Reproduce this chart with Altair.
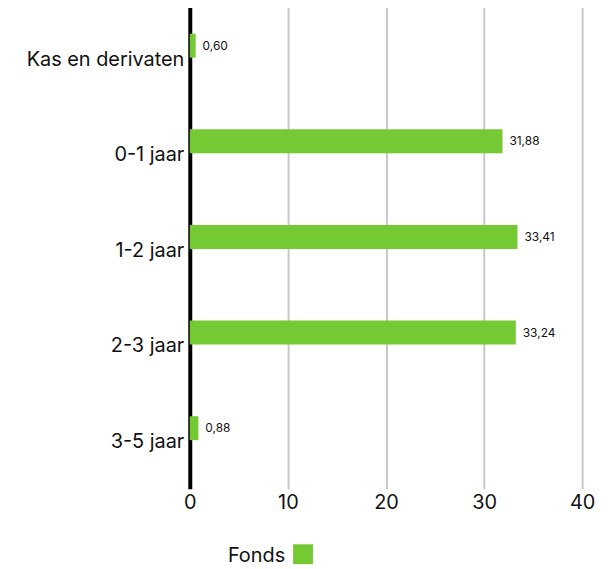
import altair as alt
import pandas as pd

categories = ["Kas en derivaten", "0-1 jaar", "1-2 jaar", "2-3 jaar", "3-5 jaar"]
values = [0.60, 31.88, 33.41, 33.24, 0.88]
series_name = "Fonds"
x_ticks = [0, 10, 20, 30, 40]

df = pd.DataFrame({"cat": categories, "val": values})

FONT = "Inter"
GREEN = "#75c933"

yscale = alt.Scale(paddingInner=0.75, paddingOuter=0.394, align=0.356)

base = alt.Chart(df).encode(
    y=alt.Y("cat:N", sort=categories, scale=yscale,
            axis=alt.Axis(title=None, ticks=False, domain=True, domainColor="#000000",
                          domainWidth=4, labelFontSize=20, labelFont=FONT,
                          labelColor="#111111", labelPadding=6, labelOffset=14,
                          grid=False)),
)

bars = base.mark_bar(color=GREEN).encode(
    x=alt.X("val:Q", scale=alt.Scale(domain=[0, 40], nice=False),
            axis=alt.Axis(title=None, values=x_ticks, ticks=False, domain=False,
                          grid=True, gridColor="#c8c8c8", gridWidth=2,
                          labelFontSize=20, labelFont=FONT, labelColor="#111111",
                          labelPadding=4, labelFlush=False)),
)

labels = base.transform_calculate(
    lbl="replace(format(datum.val, '.2f'), '.', ',')"
).mark_text(align="left", baseline="middle", dx=7, fontSize=12, font=FONT,
            color="#111111").encode(
    x="val:Q", text="lbl:N"
)

legend_df = pd.DataFrame({"name": [series_name]})
leg_text = alt.Chart(legend_df).mark_text(
    align="right", baseline="middle", fontSize=20, font=FONT, color="#111111"
).encode(x=alt.value(96), y=alt.value(553), text="name:N")
leg_sq = alt.Chart(legend_df).mark_square(
    color=GREEN, size=400, opacity=1, filled=True
).encode(x=alt.value(114), y=alt.value(551))

chart = alt.layer(bars, labels, leg_text, leg_sq).properties(
    width=395, height=485
).configure(
    padding={"left": 18, "top": -3, "right": 5, "bottom": 5}
).configure_view(stroke=None)

chart.save("out.html", embed_options={"renderer": "svg", "actions": False})
